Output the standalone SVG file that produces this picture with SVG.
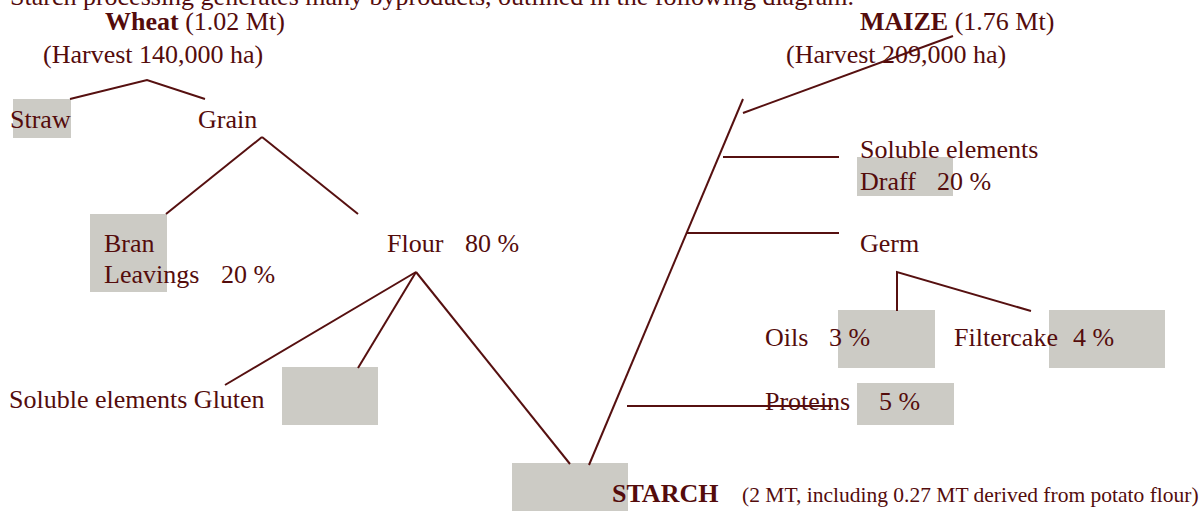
<svg xmlns="http://www.w3.org/2000/svg" width="1202" height="511" viewBox="0 0 1202 511">
<style>
text{font-family:"Liberation Serif","Times New Roman",serif;font-size:26px;fill:#540c0c}
.b{font-weight:bold}
.s{font-size:21.5px}
.box{fill:#cccbc5}
.ln{stroke:#561010;stroke-width:2;fill:none}
</style>
<rect width="1202" height="511" fill="#ffffff"/>
<text x="10" y="5">Starch processing generates many byproducts, outlined in the following diagram.</text>
<g id="wheat"><text x="105" y="30"><tspan class="b">Wheat</tspan> (1.02 Mt)</text><text x="43" y="63">(Harvest 140,000 ha)</text></g>
<g id="straw"><rect class="box" x="13" y="99" width="58" height="39"/><text x="10" y="128">Straw</text></g>
<g id="grain"><text x="198" y="128">Grain</text></g>
<g id="bran"><rect class="box" x="90" y="214" width="77" height="78"/><text x="104" y="252">Bran</text><text x="104" y="283">Leavings<tspan x="221">20 %</tspan></text></g>
<g id="flour"><text x="387" y="252">Flour<tspan x="465">80 %</tspan></text></g>
<g id="gluten"><rect class="box" x="282" y="367" width="96" height="58"/><text x="9" y="408">Soluble elements Gluten</text></g>
<g id="starch"><rect class="box" x="512" y="463" width="116" height="48"/><text x="612" y="502"><tspan class="b">STARCH</tspan><tspan class="s" x="742">(2 MT, including 0.27 MT derived from potato flour)</tspan></text></g>
<g id="maize"><text x="860" y="30"><tspan class="b">MAIZE</tspan> (1.76 Mt)</text><text x="786" y="63">(Harvest 209,000 ha)</text></g>
<g id="draff"><rect class="box" x="857" y="157" width="96" height="39"/><text x="860" y="158">Soluble elements</text><text x="860" y="190">Draff<tspan x="937">20 %</tspan></text></g>
<g id="germ"><text x="860" y="252">Germ</text></g>
<g id="oils"><rect class="box" x="838" y="310" width="97" height="58"/><text x="765" y="346">Oils<tspan x="829">3 %</tspan></text></g>
<g id="filtercake"><rect class="box" x="1049" y="310" width="116" height="58"/><text x="954" y="346">Filtercake<tspan x="1073">4 %</tspan></text></g>
<g id="proteins"><rect class="box" x="857" y="383" width="97" height="42"/><text x="765" y="410">Proteins<tspan x="879">5 %</tspan></text></g>
<g id="connectors" class="ln">
<polyline points="70,99 147,80 205,99"/>
<line x1="262" y1="137" x2="166" y2="214"/>
<line x1="262" y1="137" x2="358" y2="214"/>
<line x1="416" y1="272" x2="225" y2="385"/>
<line x1="416" y1="272" x2="358" y2="368"/>
<line x1="416" y1="272" x2="570" y2="464"/>
<line x1="743" y1="99" x2="589" y2="465"/>
<line x1="743" y1="113" x2="953" y2="36"/>
<line x1="723" y1="157" x2="839" y2="157"/>
<line x1="686" y1="233" x2="839" y2="233"/>
<line x1="627" y1="406" x2="833" y2="406"/>
<polyline points="897,311 897,272 1031,311"/>
</g>
</svg>
